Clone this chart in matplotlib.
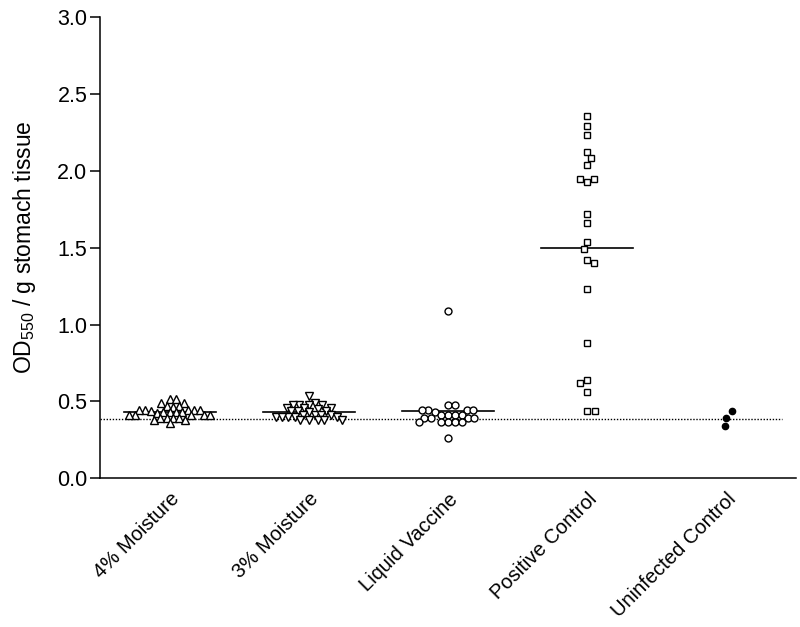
import numpy as np
import matplotlib
matplotlib.use('Agg')
import matplotlib.pyplot as plt

plt.rcParams['font.family'] = ['Liberation Sans', 'DejaVu Sans']
plt.rcParams['mathtext.fontset'] = 'custom'
plt.rcParams['mathtext.rm'] = 'Liberation Sans'
plt.rcParams['mathtext.it'] = 'Liberation Sans:italic'

groups = ['4% Moisture', '3% Moisture', 'Liquid Vaccine', 'Positive Control', 'Uninfected Control']

moist4 = [0.515, 0.515, 0.49, 0.49, 0.47, 0.47, 0.465,
          0.445, 0.445, 0.445, 0.44, 0.445, 0.445,
          0.43, 0.43, 0.425, 0.43, 0.43,
          0.415, 0.415, 0.41, 0.415, 0.415,
          0.395, 0.395, 0.39, 0.395, 0.38, 0.38, 0.36]
moist3 = [0.535, 0.49, 0.48, 0.48, 0.478, 0.48, 0.46, 0.46, 0.455, 0.45,
          0.435, 0.435, 0.43, 0.435, 0.415, 0.415, 0.41, 0.415,
          0.40, 0.40, 0.398, 0.40, 0.40, 0.38, 0.38, 0.378, 0.38, 0.38]
liquid = [1.09, 0.48, 0.48, 0.445, 0.445, 0.445, 0.445, 0.43,
          0.415, 0.415, 0.415, 0.415, 0.395, 0.395, 0.395, 0.395,
          0.365, 0.365, 0.365, 0.365, 0.365, 0.26]
positive = [2.355, 2.29, 2.235, 2.12, 2.08, 2.04, 1.945, 1.93, 1.945, 1.72, 1.66,
            1.535, 1.49, 1.418, 1.40, 1.234, 0.883, 0.638, 0.617, 0.56, 0.44, 0.44]
uninfected = [0.436, 0.392, 0.338]

data = [moist4, moist3, liquid, positive, uninfected]
markers = ['^', 'v', 'o', 's', 'o']
msizes = [6, 6, 5, 5, 4.5]
faces = ['white', 'white', 'white', 'white', 'black']
gaps = [6.2, 6.2, 6.8, 7.5, 8.5]   # swarm spacing in pixels

fig = plt.figure(figsize=(8, 6.27), dpi=100)
ax = fig.add_axes([0.125, 0.237, 0.87, 0.736])
ax.set_xlim(-0.5, 4.5)
ax.set_ylim(0, 3.0)


def swarm(vals, pos, d=7.5):
    # beeswarm: shift each point sideways as little as needed (pixel space)
    vals = np.asarray(vals)
    pts = ax.transData.transform(np.column_stack([np.full(len(vals), pos), vals]))
    inv = ax.transData.inverted()
    placed = []
    out = np.zeros(len(vals))
    order = np.argsort(np.abs(vals - np.median(vals)), kind='stable')
    for n, i in enumerate(order):
        px, py = pts[i]
        spans = []
        for qx, qy in placed:
            dy = abs(py - qy)
            if dy < d:
                w = np.sqrt(d * d - dy * dy)
                spans.append((qx - w, qx + w))
        cands = [px] + [a for a, b in spans] + [b for a, b in spans]
        ok = [c for c in cands
              if all(not (a + 1e-6 < c < b - 1e-6) for a, b in spans)]
        sgn = 1 if n % 2 == 1 else -1
        x = min(ok, key=lambda c: (round(abs(c - px), 3), -sgn * (c - px)))
        placed.append((x, py))
        out[i] = inv.transform((x, py))[0]
    return out


for i, vals in enumerate(data):
    xs = swarm(vals, i, gaps[i])
    ax.plot(xs, vals, linestyle='none', marker=markers[i], markersize=msizes[i],
            markerfacecolor=faces[i], markeredgecolor='black', markeredgewidth=1.0,
            zorder=3)
    if i < 4:
        m = np.mean(vals)
        ax.plot([i - 0.33, i + 0.33], [m, m], color='black', lw=1.2, zorder=2)

cut = np.mean(uninfected)
ax.plot([-0.5, 4.4], [cut, cut], color='black', lw=1.0, dashes=(1, 1.2), zorder=1)

ax.set_xticks(range(len(groups)))
ax.set_xticklabels(groups, rotation=45, ha='right', rotation_mode='anchor', fontsize=14.5)
ax.tick_params(axis='x', length=0, pad=8)
ax.set_yticks(np.arange(0, 3.01, 0.5))
ax.set_yticklabels(['%.1f' % v for v in np.arange(0, 3.01, 0.5)])
ax.tick_params(axis='y', length=7, width=1.1, labelsize=15.5, pad=2)
ax.set_ylabel('OD$_{550}$ / g stomach tissue', fontsize=16.5, labelpad=14)

for s in ['top', 'right']:
    ax.spines[s].set_visible(False)
for s in ['left', 'bottom']:
    ax.spines[s].set_linewidth(1.1)

fig.savefig('out.png', dpi=100)
